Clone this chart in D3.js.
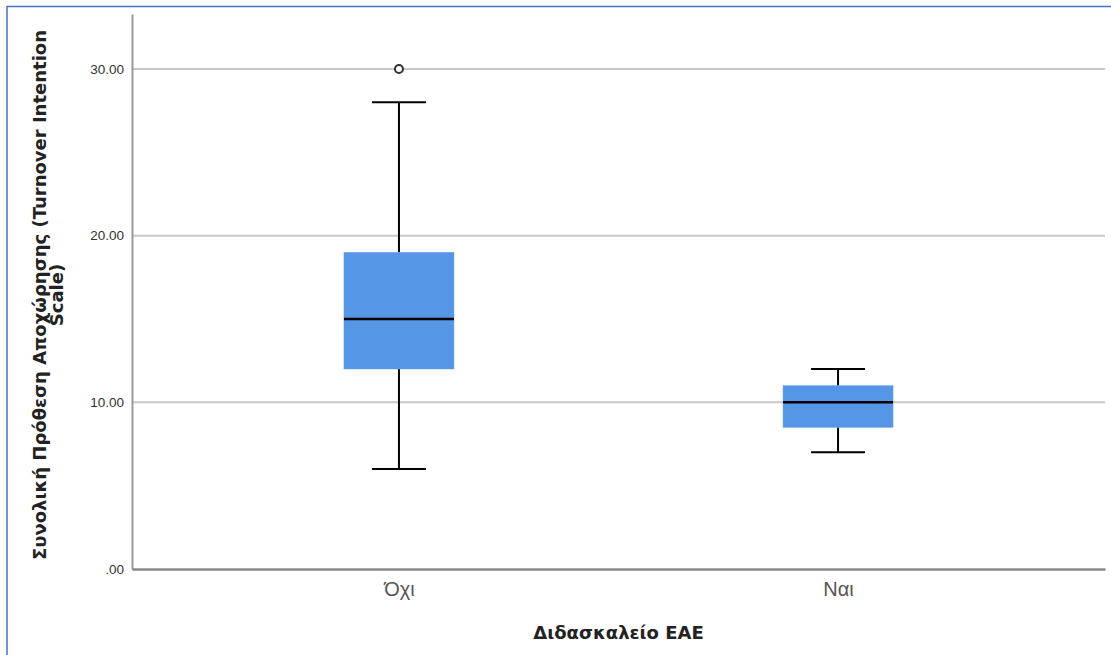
<!DOCTYPE html>
<html><head><meta charset="utf-8">
<script src="https://cdn.jsdelivr.net/npm/d3@7"></script>
<style>body{margin:0;background:#fff}svg{display:block}</style>
</head><body>
<svg id="c" width="1111" height="655"></svg>
<script>
const categories = ["Όχι", "Ναι"];
const whiskerLow = [6, 7];
const q1 = [12, 8.5];
const medians = [15, 10];
const q3 = [19, 11];
const whiskerHigh = [28, 12];
const outliers = [[30], []];
const yTicks = [0, 10, 20, 30];
const yTickLabels = [".00", "10.00", "20.00", "30.00"];
const xTitle = "Διδασκαλείο ΕΑΕ";
const yTitleLines = ["Συνολική Πρόθεση Αποχώρησης (Turnover Intention", "Scale)"];

const svg = d3.select("#c");
const L = 132, R = 1105, T = 14, B = 569;
const sans = "'Liberation Sans', Arial, sans-serif";
const wide = "'DejaVu Sans', sans-serif";

// frame border
svg.append("line").attr("x1",7).attr("x2",1111).attr("y1",6.5).attr("y2",6.5).attr("stroke","#4a72c0").attr("stroke-width",1.5);
svg.append("line").attr("x1",7).attr("x2",7).attr("y1",6).attr("y2",655).attr("stroke","#4a72c0").attr("stroke-width",1.5);

const y = d3.scaleLinear().domain([0, 33.3]).range([B, T]);
const x = d3.scalePoint().domain(categories).range([L, R]).padding(0.608);
const boxW = 110, capW = 54;

// gridlines
svg.append("g").selectAll("line").data(yTicks.filter(d => d > 0)).join("line")
  .attr("x1", L).attr("x2", R).attr("y1", d => y(d)).attr("y2", d => y(d))
  .attr("stroke", "#c8c8c8").attr("stroke-width", 2);

// y axis
const yAxis = d3.axisLeft(y).tickValues(yTicks).tickFormat((d,i) => yTickLabels[i]).tickSize(0).tickPadding(8);
const gy = svg.append("g").attr("transform", `translate(${L},0)`).call(yAxis);
gy.select(".domain").attr("stroke", "#999").attr("stroke-width", 2);
gy.selectAll("text").style("font-size", "13.5px").style("fill", "#333").style("font-family", sans);

// x axis
const xAxis = d3.axisBottom(x).tickSize(0).tickPadding(13);
const gx = svg.append("g").attr("transform", `translate(0,${B})`).call(xAxis);
gx.select(".domain").attr("stroke", "#888").attr("stroke-width", 2.5);
gx.selectAll("text").style("font-size", "20px").style("fill", "#555").style("font-family", sans);

// boxes
const g = svg.append("g");
categories.forEach((c, i) => {
  const cx = x(c);
  g.append("line").attr("x1", cx).attr("x2", cx).attr("y1", y(whiskerHigh[i])).attr("y2", y(q3[i])).attr("stroke", "#000").attr("stroke-width", 2);
  g.append("line").attr("x1", cx).attr("x2", cx).attr("y1", y(q1[i])).attr("y2", y(whiskerLow[i])).attr("stroke", "#000").attr("stroke-width", 2);
  g.append("line").attr("x1", cx - capW/2).attr("x2", cx + capW/2).attr("y1", y(whiskerHigh[i])).attr("y2", y(whiskerHigh[i])).attr("stroke", "#000").attr("stroke-width", 2);
  g.append("line").attr("x1", cx - capW/2).attr("x2", cx + capW/2).attr("y1", y(whiskerLow[i])).attr("y2", y(whiskerLow[i])).attr("stroke", "#000").attr("stroke-width", 2);
  g.append("rect").attr("x", cx - boxW/2).attr("width", boxW).attr("y", y(q3[i])).attr("height", y(q1[i]) - y(q3[i]))
    .attr("fill", "#5596e6").attr("stroke", "#6a9fe0").attr("stroke-width", 0.5);
  g.append("line").attr("x1", cx - boxW/2).attr("x2", cx + boxW/2).attr("y1", y(medians[i])).attr("y2", y(medians[i])).attr("stroke", "#000").attr("stroke-width", 2.5);
  outliers[i].forEach(o => {
    g.append("circle").attr("cx", cx).attr("cy", y(o)).attr("r", 4).attr("fill", "#fff").attr("stroke", "#333").attr("stroke-width", 2);
  });
});

// titles
svg.append("text").attr("x", (L + R) / 2).attr("y", 639).attr("text-anchor", "middle")
  .style("font-family", wide).style("font-size", "18px").style("font-weight", "bold").style("fill", "#222").text(xTitle);
const yt = svg.append("text").attr("transform", `translate(46,295) rotate(-90)`).attr("text-anchor", "middle")
  .style("font-family", wide).style("font-size", "18px").style("font-weight", "bold").style("fill", "#222");
yTitleLines.forEach((t, i) => yt.append("tspan").attr("x", 0).attr("dy", i === 0 ? 0 : 17).text(t));
</script>
</body></html>
